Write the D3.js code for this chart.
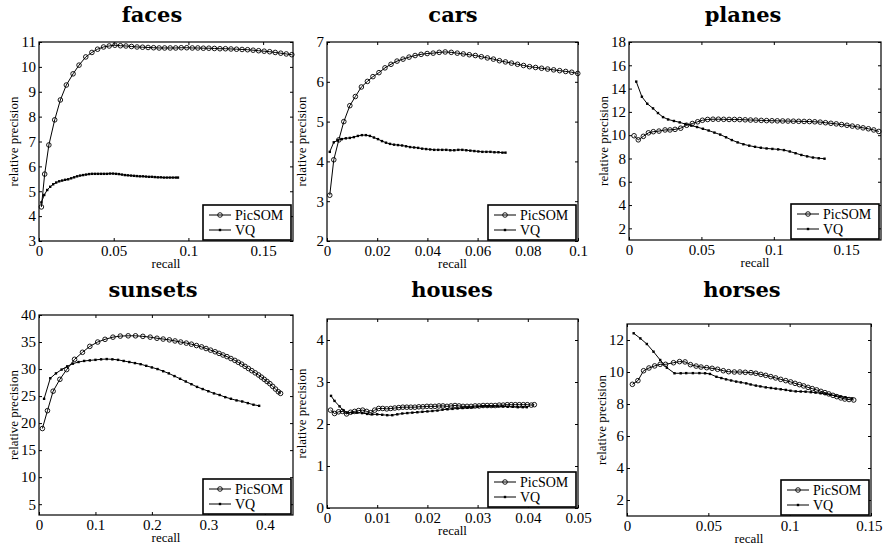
<!DOCTYPE html>
<html>
<head>
<meta charset="utf-8">
<script src="https://cdn.jsdelivr.net/npm/d3@7"></script>
<style>
body { margin: 0; background: #fff; }
svg text { font-family: "Liberation Serif", "DejaVu Serif", "Times New Roman", Times, serif; }
svg text.ttl { font-family: "DejaVu Serif", "Liberation Serif", serif; font-weight: bold; font-size: 21px; }
</style>
</head>
<body>
<div id="chart"></div>
<script>
// ---- data: [recall, relative precision] ----
var facesPic = [[0.0016,4.37],[0.0038,5.69],[0.0066,6.86],[0.0105,7.87],[0.0143,8.67],[0.0183,9.27],[0.0228,9.72],[0.0268,10.07],[0.0313,10.40],[0.0354,10.58],[0.0392,10.71],[0.0432,10.80],[0.0470,10.84],[0.0508,10.87],[0.0545,10.85],[0.0582,10.84],[0.0619,10.82],[0.0656,10.80],[0.0693,10.79],[0.0730,10.78],[0.0767,10.77],[0.0804,10.76],[0.0841,10.76],[0.0878,10.76],[0.0915,10.76],[0.0952,10.77],[0.0989,10.77],[0.1026,10.76],[0.1063,10.76],[0.1100,10.75],[0.1137,10.75],[0.1174,10.74],[0.1211,10.73],[0.1248,10.73],[0.1285,10.72],[0.1322,10.71],[0.1359,10.70],[0.1396,10.69],[0.1433,10.67],[0.1470,10.65],[0.1507,10.63],[0.1544,10.61],[0.1581,10.58],[0.1618,10.55],[0.1655,10.52],[0.1692,10.49]];
var facesVq = [[0.0016,4.55],[0.0035,4.85],[0.0055,5.05],[0.0075,5.18],[0.0095,5.28],[0.0115,5.35],[0.0135,5.40],[0.0155,5.43],[0.0175,5.46],[0.0195,5.48],[0.0215,5.52],[0.0235,5.56],[0.0255,5.60],[0.0275,5.63],[0.0295,5.65],[0.0315,5.67],[0.0335,5.69],[0.0355,5.70],[0.0375,5.70],[0.0395,5.70],[0.0415,5.70],[0.0435,5.70],[0.0455,5.70],[0.0475,5.71],[0.0495,5.71],[0.0515,5.70],[0.0535,5.69],[0.0555,5.67],[0.0575,5.65],[0.0595,5.64],[0.0615,5.63],[0.0635,5.62],[0.0655,5.61],[0.0675,5.60],[0.0695,5.60],[0.0715,5.59],[0.0735,5.58],[0.0755,5.58],[0.0775,5.57],[0.0795,5.56],[0.0815,5.56],[0.0835,5.55],[0.0855,5.55],[0.0875,5.55],[0.0895,5.55],[0.0915,5.55],[0.0930,5.55]];

var carsPic = [[0.0011,3.15],[0.0027,4.04],[0.0047,4.54],[0.0067,5.00],[0.0091,5.40],[0.0113,5.63],[0.0137,5.87],[0.0161,6.01],[0.0183,6.13],[0.0207,6.23],[0.0231,6.35],[0.0255,6.44],[0.0279,6.52],[0.0303,6.57],[0.0327,6.62],[0.0351,6.66],[0.0375,6.69],[0.0399,6.71],[0.0423,6.72],[0.0447,6.74],[0.0471,6.75],[0.0495,6.74],[0.0519,6.72],[0.0543,6.70],[0.0567,6.68],[0.0591,6.66],[0.0615,6.63],[0.0639,6.60],[0.0663,6.57],[0.0687,6.53],[0.0711,6.50],[0.0735,6.47],[0.0759,6.44],[0.0783,6.41],[0.0807,6.38],[0.0831,6.36],[0.0855,6.34],[0.0879,6.32],[0.0903,6.30],[0.0927,6.28],[0.0951,6.26],[0.0975,6.24],[0.0999,6.21]];
var carsVq = [[0.0011,4.24],[0.0027,4.48],[0.0043,4.53],[0.0059,4.56],[0.0075,4.58],[0.0091,4.59],[0.0107,4.61],[0.0123,4.64],[0.0139,4.66],[0.0155,4.66],[0.0171,4.64],[0.0187,4.60],[0.0203,4.56],[0.0219,4.51],[0.0235,4.47],[0.0251,4.44],[0.0267,4.42],[0.0283,4.41],[0.0299,4.40],[0.0315,4.38],[0.0331,4.36],[0.0347,4.35],[0.0363,4.34],[0.0379,4.32],[0.0395,4.31],[0.0411,4.30],[0.0427,4.29],[0.0443,4.29],[0.0459,4.29],[0.0475,4.29],[0.0491,4.28],[0.0507,4.28],[0.0523,4.29],[0.0539,4.29],[0.0555,4.28],[0.0571,4.27],[0.0587,4.26],[0.0603,4.25],[0.0619,4.24],[0.0635,4.24],[0.0651,4.24],[0.0667,4.23],[0.0683,4.23],[0.0699,4.22],[0.0711,4.22]];

var planesPic = [[0.0035,9.95],[0.0064,9.60],[0.0099,9.90],[0.0134,10.20],[0.0168,10.30],[0.0207,10.35],[0.0249,10.45],[0.0283,10.45],[0.0318,10.50],[0.0357,10.60],[0.0398,10.85],[0.0437,11.00],[0.0474,11.15],[0.0507,11.28],[0.0543,11.35],[0.0580,11.37],[0.0617,11.37],[0.0654,11.36],[0.0691,11.35],[0.0728,11.35],[0.0765,11.34],[0.0802,11.32],[0.0839,11.30],[0.0876,11.29],[0.0913,11.27],[0.0950,11.25],[0.0987,11.24],[0.1024,11.23],[0.1061,11.22],[0.1098,11.21],[0.1135,11.20],[0.1172,11.19],[0.1209,11.18],[0.1246,11.17],[0.1283,11.15],[0.1320,11.12],[0.1357,11.07],[0.1394,11.02],[0.1431,10.97],[0.1468,10.91],[0.1505,10.85],[0.1542,10.78],[0.1579,10.71],[0.1616,10.63],[0.1653,10.55],[0.1690,10.45],[0.1725,10.32]];
var planesVq = [[0.0050,14.60],[0.0089,13.30],[0.0126,12.70],[0.0166,12.30],[0.0200,11.90],[0.0235,11.55],[0.0270,11.35],[0.0310,11.22],[0.0350,11.10],[0.0390,10.95],[0.0430,10.82],[0.0470,10.70],[0.0510,10.55],[0.0550,10.40],[0.0590,10.22],[0.0630,10.05],[0.0670,9.82],[0.0710,9.58],[0.0750,9.38],[0.0790,9.22],[0.0830,9.10],[0.0870,9.00],[0.0910,8.92],[0.0950,8.86],[0.0990,8.82],[0.1030,8.78],[0.1070,8.72],[0.1110,8.60],[0.1150,8.45],[0.1190,8.30],[0.1230,8.18],[0.1270,8.08],[0.1310,8.02],[0.1350,7.98]];

var sunsetsPic = [[0.006,19.0],[0.015,22.3],[0.025,25.9],[0.037,28.1],[0.049,29.9],[0.063,31.8],[0.077,33.1],[0.090,34.2],[0.104,35.0],[0.117,35.5],[0.131,35.9],[0.144,36.1],[0.158,36.15],[0.171,36.15],[0.184,36.05],[0.197,35.9],[0.209,35.7],[0.220,35.55],[0.231,35.4],[0.241,35.2],[0.251,35.0],[0.261,34.8],[0.270,34.6],[0.279,34.35],[0.288,34.1],[0.296,33.8],[0.304,33.5],[0.312,33.2],[0.319,32.9],[0.326,32.6],[0.333,32.3],[0.340,31.95],[0.347,31.6],[0.353,31.25],[0.359,30.9],[0.365,30.5],[0.371,30.1],[0.377,29.7],[0.383,29.3],[0.389,28.9],[0.394,28.5],[0.399,28.1],[0.404,27.7],[0.409,27.3],[0.414,26.8],[0.419,26.3],[0.424,25.8],[0.428,25.5]];
var sunsetsVq = [[0.009,24.5],[0.020,28.3],[0.030,29.2],[0.040,29.9],[0.050,30.5],[0.060,31.0],[0.070,31.3],[0.080,31.5],[0.090,31.6],[0.100,31.7],[0.110,31.8],[0.120,31.85],[0.130,31.8],[0.140,31.7],[0.150,31.5],[0.160,31.3],[0.170,31.1],[0.180,30.9],[0.190,30.6],[0.200,30.3],[0.210,30.0],[0.220,29.6],[0.230,29.2],[0.240,28.7],[0.250,28.2],[0.260,27.7],[0.270,27.2],[0.280,26.7],[0.290,26.3],[0.300,25.9],[0.310,25.5],[0.320,25.2],[0.330,24.8],[0.340,24.5],[0.350,24.2],[0.360,24.0],[0.370,23.7],[0.380,23.4],[0.390,23.2]];

var housesPic = [[0.0007,2.33],[0.0015,2.25],[0.0023,2.29],[0.0031,2.30],[0.0039,2.24],[0.0047,2.28],[0.0055,2.30],[0.0063,2.32],[0.0071,2.33],[0.0079,2.30],[0.0087,2.27],[0.0095,2.33],[0.0103,2.37],[0.0111,2.37],[0.0119,2.36],[0.0127,2.37],[0.0135,2.38],[0.0143,2.39],[0.0151,2.40],[0.0159,2.40],[0.0167,2.40],[0.0175,2.40],[0.0183,2.41],[0.0191,2.41],[0.0199,2.42],[0.0207,2.42],[0.0215,2.42],[0.0223,2.43],[0.0231,2.43],[0.0239,2.42],[0.0247,2.43],[0.0255,2.44],[0.0263,2.43],[0.0271,2.42],[0.0279,2.42],[0.0287,2.42],[0.0295,2.43],[0.0303,2.43],[0.0311,2.44],[0.0319,2.44],[0.0327,2.44],[0.0335,2.44],[0.0343,2.45],[0.0351,2.45],[0.0359,2.46],[0.0367,2.46],[0.0375,2.46],[0.0383,2.46],[0.0391,2.46],[0.0399,2.46],[0.0407,2.45],[0.0413,2.46]];
var housesVq = [[0.0008,2.67],[0.0015,2.55],[0.0025,2.42],[0.0033,2.32],[0.0040,2.27],[0.0050,2.27],[0.0060,2.27],[0.0070,2.26],[0.0080,2.24],[0.0090,2.23],[0.0100,2.23],[0.0110,2.22],[0.0120,2.21],[0.0130,2.21],[0.0140,2.23],[0.0150,2.25],[0.0160,2.26],[0.0170,2.27],[0.0180,2.28],[0.0190,2.29],[0.0200,2.30],[0.0210,2.31],[0.0220,2.32],[0.0230,2.34],[0.0240,2.35],[0.0250,2.36],[0.0260,2.37],[0.0270,2.38],[0.0280,2.39],[0.0290,2.40],[0.0300,2.41],[0.0310,2.42],[0.0320,2.42],[0.0330,2.42],[0.0340,2.42],[0.0350,2.42],[0.0360,2.41],[0.0370,2.41],[0.0380,2.40],[0.0390,2.40],[0.0398,2.40]];

var horsesPic = [[0.0033,9.23],[0.0067,9.46],[0.0102,10.08],[0.0135,10.25],[0.0170,10.38],[0.0204,10.48],[0.0237,10.48],[0.0286,10.58],[0.0323,10.65],[0.0357,10.63],[0.0390,10.46],[0.0425,10.37],[0.0455,10.31],[0.0490,10.27],[0.0523,10.23],[0.0557,10.17],[0.0592,10.08],[0.0625,10.02],[0.0660,10.00],[0.0694,10.00],[0.0727,9.98],[0.0762,9.96],[0.0792,9.92],[0.0823,9.85],[0.0853,9.79],[0.0884,9.71],[0.0914,9.63],[0.0945,9.54],[0.0976,9.46],[0.1006,9.38],[0.1033,9.29],[0.1060,9.21],[0.1086,9.13],[0.1113,9.04],[0.1139,8.96],[0.1166,8.88],[0.1192,8.79],[0.1217,8.71],[0.1241,8.63],[0.1266,8.54],[0.1290,8.46],[0.1315,8.38],[0.1339,8.31],[0.1365,8.28],[0.1394,8.25]];
var horsesVq = [[0.0041,12.42],[0.0082,12.10],[0.0122,11.75],[0.0163,11.27],[0.0204,10.75],[0.0245,10.27],[0.0292,9.92],[0.0330,9.92],[0.0364,9.93],[0.0405,9.93],[0.0445,9.93],[0.0480,9.92],[0.0510,9.88],[0.0550,9.70],[0.0580,9.62],[0.0609,9.54],[0.0640,9.47],[0.0671,9.40],[0.0700,9.35],[0.0733,9.29],[0.0760,9.22],[0.0792,9.15],[0.0820,9.10],[0.0853,9.04],[0.0885,9.00],[0.0914,8.96],[0.0945,8.92],[0.0976,8.88],[0.1005,8.83],[0.1037,8.79],[0.1068,8.78],[0.1098,8.77],[0.1130,8.74],[0.1159,8.71],[0.1190,8.67],[0.1221,8.63],[0.1250,8.58],[0.1282,8.52],[0.1312,8.47],[0.1343,8.42],[0.1384,8.35]];

// ---- tick labels ----
var facesXTicks = [0, 0.05, 0.1, 0.15],        facesYTicks = [3, 4, 5, 6, 7, 8, 9, 10, 11];
var carsXTicks = [0, 0.02, 0.04, 0.06, 0.08, 0.1], carsYTicks = [2, 3, 4, 5, 6, 7];
var planesXTicks = [0, 0.05, 0.1, 0.15],       planesYTicks = [2, 4, 6, 8, 10, 12, 14, 16, 18];
var sunsetsXTicks = [0, 0.1, 0.2, 0.3, 0.4],   sunsetsYTicks = [5, 10, 15, 20, 25, 30, 35, 40];
var housesXTicks = [0, 0.01, 0.02, 0.03, 0.04, 0.05], housesYTicks = [0, 1, 2, 3, 4];
var horsesXTicks = [0, 0.05, 0.1, 0.15],       horsesYTicks = [2, 4, 6, 8, 10, 12];

var seriesNames = ["PicSOM", "VQ"];

var panels = [
  {title: "faces",   pic: facesPic,   vq: facesVq,   xd: [0, 0.17],  yd: [3, 11], xt: facesXTicks,   yt: facesYTicks,   box: [39, 42, 293, 241],  tx: 152},
  {title: "cars",    pic: carsPic,    vq: carsVq,    xd: [0, 0.1],   yd: [2, 7],  xt: carsXTicks,    yt: carsYTicks,    box: [327, 42, 578, 241], tx: 453},
  {title: "planes",  pic: planesPic,  vq: planesVq,  xd: [0, 0.174], yd: [1, 18], xt: planesXTicks,  yt: planesYTicks,  box: [629, 42, 881, 240], tx: 743},
  {title: "sunsets", pic: sunsetsPic, vq: sunsetsVq, xd: [0, 0.45],  yd: [3, 40], xt: sunsetsXTicks, yt: sunsetsYTicks, box: [39, 315, 293, 515], tx: 153},
  {title: "houses",  pic: housesPic,  vq: housesVq,  xd: [0, 0.05],  yd: [0, 4.5], xt: housesXTicks, yt: housesYTicks,  box: [327, 319, 578, 508], tx: 452},
  {title: "horses",  pic: horsesPic,  vq: horsesVq,  xd: [0, 0.15],  yd: [1, 13], xt: horsesXTicks,  yt: horsesYTicks,  box: [627, 324, 871, 516], tx: 742}
];

var svg = d3.select("#chart").append("svg")
    .attr("width", 883)
    .attr("height", 545);

panels.forEach(function(p, i) {
    var l = p.box[0], t = p.box[1], r = p.box[2], b = p.box[3];
    var x = d3.scaleLinear().domain(p.xd).range([l, r]);
    var y = d3.scaleLinear().domain(p.yd).range([b, t]);
    var fmt = d3.format("~g");
    var g = svg.append("g");

    // ticks on all four sides, pointing inward
    var axB = g.append("g").attr("transform", "translate(0," + b + ")")
        .call(d3.axisBottom(x).tickValues(p.xt).tickSize(-3).tickPadding(4).tickFormat(fmt));
    var axT = g.append("g").attr("transform", "translate(0," + t + ")")
        .call(d3.axisTop(x).tickValues(p.xt).tickSize(-3).tickFormat(""));
    var axL = g.append("g").attr("transform", "translate(" + l + ",0)")
        .call(d3.axisLeft(y).tickValues(p.yt).tickSize(-3).tickPadding(3).tickFormat(fmt));
    var axR = g.append("g").attr("transform", "translate(" + r + ",0)")
        .call(d3.axisRight(y).tickValues(p.yt).tickSize(-3).tickFormat(""));
    [axB, axT, axL, axR].forEach(function(a) {
        a.attr("font-family", null).attr("font-size", null);
        a.select(".domain").remove();
        a.selectAll("line").attr("stroke", "#000");
        a.selectAll("text").attr("fill", "#000").style("font-size", "15px");
    });
    // keep the last x label inside the page
    axB.selectAll(".tick").each(function(d) {
        var txt = d3.select(this).select("text");
        var w = txt.node().getComputedTextLength();
        var over = x(d) + w / 2 - 882;
        if (over > 0) txt.attr("x", -over);
    });

    g.append("rect")
        .attr("x", l).attr("y", t)
        .attr("width", r - l).attr("height", b - t)
        .attr("fill", "none").attr("stroke", "#000").attr("stroke-width", 1.2);

    var line = d3.line()
        .x(function(d) { return x(d[0]); })
        .y(function(d) { return y(d[1]); });

    g.append("path").datum(p.vq)
        .attr("d", line).attr("fill", "none")
        .attr("stroke", "#000").attr("stroke-width", 1);
    g.selectAll(".vqdot").data(p.vq).enter().append("rect")
        .attr("class", "vqdot")
        .attr("x", function(d) { return x(d[0]) - 1.2; })
        .attr("y", function(d) { return y(d[1]) - 1.2; })
        .attr("width", 2.4).attr("height", 2.4)
        .attr("fill", "#000");

    g.append("path").datum(p.pic)
        .attr("d", line).attr("fill", "none")
        .attr("stroke", "#000").attr("stroke-width", 1);
    g.selectAll(".picdot").data(p.pic).enter().append("circle")
        .attr("class", "picdot")
        .attr("cx", function(d) { return x(d[0]); })
        .attr("cy", function(d) { return y(d[1]); })
        .attr("r", 2.3)
        .attr("fill", "none").attr("stroke", "#000").attr("stroke-width", 0.9);

    // titles and axis labels
    var row = i < 3 ? 0 : 1;
    g.append("text")
        .attr("class", "ttl")
        .attr("x", p.tx).attr("y", row === 0 ? 22 : 297)
        .attr("text-anchor", "middle")
        .text(p.title);
    g.append("text")
        .attr("x", (l + r) / 2).attr("y", b + 27)
        .attr("text-anchor", "middle")
        .style("font-size", "13px")
        .text("recall");
    g.append("text")
        .attr("transform", "translate(" + (l - 21) + "," + ((t + b) / 2) + ") rotate(-90)")
        .attr("text-anchor", "middle")
        .style("font-size", "13px")
        .text("relative precision");

    // legend, lower right
    var lw = 88, lh = 35;
    var lx = r - lw - 2, ly = b - lh - 1;
    var leg = g.append("g").attr("transform", "translate(" + lx + "," + ly + ")");
    leg.append("rect")
        .attr("width", lw).attr("height", lh)
        .attr("fill", "#fff").attr("stroke", "#000").attr("stroke-width", 1.6);
    seriesNames.forEach(function(name, k) {
        var cy = 10 + k * 15;
        leg.append("line")
            .attr("x1", 6).attr("x2", 28).attr("y1", cy).attr("y2", cy)
            .attr("stroke", "#000").attr("stroke-width", 1);
        if (k === 0) {
            leg.append("circle").attr("cx", 17).attr("cy", cy).attr("r", 2.3)
                .attr("fill", "none").attr("stroke", "#000").attr("stroke-width", 0.9);
        } else {
            leg.append("rect").attr("x", 15.8).attr("y", cy - 1.2)
                .attr("width", 2.4).attr("height", 2.4).attr("fill", "#000");
        }
        leg.append("text")
            .attr("x", 32).attr("y", cy + 5)
            .style("font-size", "14px")
            .text(name);
    });
});
</script>
</body>
</html>
